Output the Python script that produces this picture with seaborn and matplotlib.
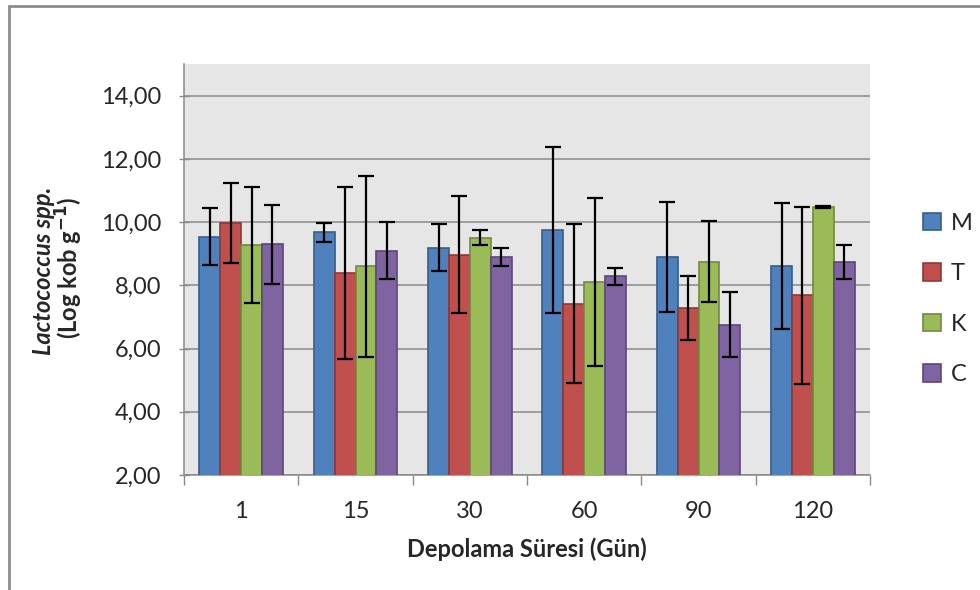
import numpy as np
import matplotlib.pyplot as plt
import matplotlib.patches as mpatches
import seaborn as sns
import pandas as pd

# data
days = ["1", "15", "30", "60", "90", "120"]
groups = ["M", "T", "K", "C"]
m_vals = [9.53, 9.68, 9.19, 9.75, 8.90, 8.61]
t_vals = [9.98, 8.40, 8.96, 7.42, 7.28, 7.68]
k_vals = [9.27, 8.60, 9.51, 8.10, 8.74, 10.47]
c_vals = [9.30, 9.09, 8.90, 8.29, 6.76, 8.74]
m_err = [0.90, 0.30, 0.74, 2.64, 1.73, 2.00]
t_err = [1.26, 2.72, 1.85, 2.52, 1.00, 2.80]
k_err = [1.83, 2.86, 0.25, 2.65, 1.28, 0.04]
c_err = [1.25, 0.90, 0.28, 0.27, 1.02, 0.55]

colors = ["#4F81BD", "#C0504D", "#9BBB59", "#8064A2"]
edges = ["#385D8A", "#8C3836", "#71893F", "#5C4776"]

vals = [m_vals, t_vals, k_vals, c_vals]
errs = [m_err, t_err, k_err, c_err]
rows = []
for g, v, e in zip(groups, vals, errs):
    for d, vv, ee in zip(days, v, e):
        rows.append({"gun": d, "grup": g, "deger": vv, "hata": ee})
df = pd.DataFrame(rows)

sns.set_style("white")
plt.rcParams["font.family"] = ["Lato", "DejaVu Sans"]
FONT = 17

fig = plt.figure(figsize=(9.8, 5.9), dpi=100)
ax = fig.add_axes([184 / 980, 1 - 475 / 590, 686 / 980, 411 / 590])

sns.barplot(df, x="gun", y="deger", hue="grup", order=days, hue_order=groups,
            palette=colors, saturation=1, width=0.73, errorbar=None, ax=ax,
            zorder=3)

for cont, g, ec in zip(ax.containers, groups, edges):
    sub = df[df["grup"] == g].set_index("gun").loc[days]
    xs = [b.get_x() + b.get_width() / 2 for b in cont]
    for b in cont:
        b.set_edgecolor(ec)
        b.set_linewidth(1.2)
    ax.errorbar(xs, sub["deger"].values, yerr=sub["hata"].values, fmt="none",
                ecolor="black", elinewidth=1.6, capsize=5.5, capthick=1.6,
                zorder=4)

ax.set_facecolor("#E6E6E6")
ax.set_ylim(2, 15)
ax.set_xlim(-0.5, 5.5)
ax.set_yticks([2, 4, 6, 8, 10, 12, 14])
ax.set_yticklabels(["2,00", "4,00", "6,00", "8,00", "10,00", "12,00", "14,00"],
                   fontsize=FONT)
ax.yaxis.grid(True, color="#8A8A8A", linewidth=1.1, zorder=0)
ax.set_axisbelow(True)
ax.tick_params(axis="y", left=True, length=7, width=1, color="#8A8A8A", pad=13,
               direction="inout")
ax.set_xticks(np.arange(len(days)))
ax.set_xticklabels(days, fontsize=FONT)
ax.set_xticks(np.arange(-0.5, len(days)), minor=True)
ax.tick_params(axis="x", which="major", length=0, pad=19)
ax.tick_params(axis="x", which="minor", bottom=True, length=7, width=1,
               color="#8A8A8A")
for side in ["top", "right"]:
    ax.spines[side].set_visible(False)
for side in ["left", "bottom"]:
    ax.spines[side].set_color("#8A8A8A")
    ax.spines[side].set_linewidth(1.1)

ax.set_xlabel("Depolama Süresi (Gün)", fontsize=FONT, fontweight="bold",
              labelpad=11)
ax.set_ylabel("")
fig.text(44 / 980, 1 - 271 / 590, "Lactococcus spp.", rotation=90,
         ha="center", va="center", fontsize=FONT, fontweight="bold",
         fontstyle="italic")
fig.text(69 / 980, 1 - 268 / 590, r"(Log kob g$^{\mathbf{-1}}$)", rotation=90,
         ha="center", va="center", fontsize=FONT, fontweight="bold")

ax.get_legend().remove()
handles = [mpatches.Patch(facecolor=c, edgecolor=e, linewidth=1.2, label=g)
           for c, e, g in zip(colors, edges, groups)]
fig.legend(handles=handles, loc="center left",
           bbox_to_anchor=(902 / 980, 1 - 299 / 590), frameon=False,
           fontsize=FONT, handlelength=0.75, handleheight=0.75,
           handletextpad=0.4, labelspacing=1.25)

# outer chart frame
fig.patches.append(mpatches.Rectangle((9 / 980, -0.1), 2, 1 - 6 / 590 + 0.1,
                                      transform=fig.transFigure, fill=False,
                                      edgecolor="#8C8C8C", linewidth=2))

fig.savefig("out.png", dpi=100)
